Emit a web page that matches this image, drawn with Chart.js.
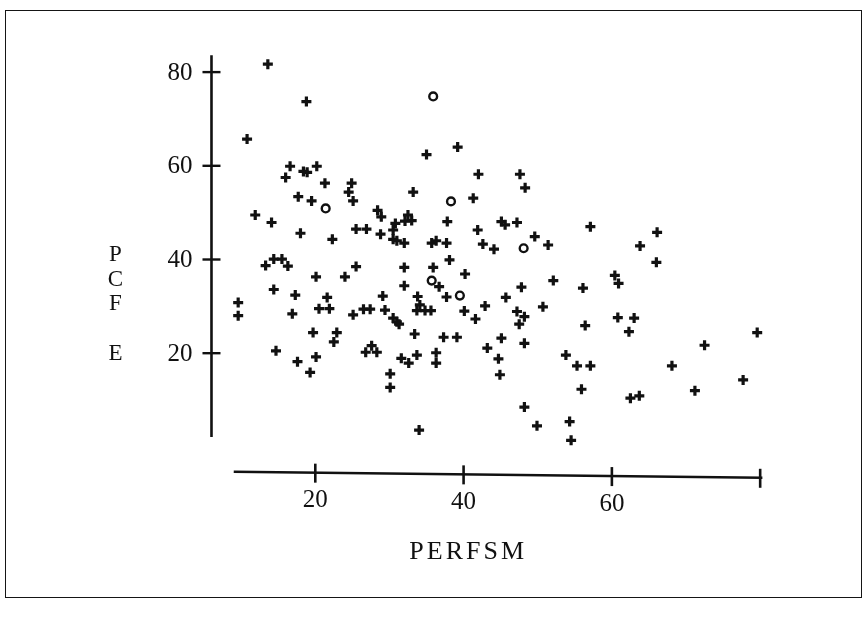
<!DOCTYPE html>
<html>
<head>
<meta charset="utf-8">
<script src="https://cdn.jsdelivr.net/npm/chart.js@4.4.1/dist/chart.umd.min.js"></script>
<style>
  html, body { margin: 0; padding: 0; background: #fff; }
  #wrap { position: relative; width: 865px; height: 620px; }
  #frame { position: absolute; left: 5px; top: 10px; width: 857px; height: 588px; border: 1.5px solid #151515; box-sizing: border-box; }
  canvas { position: absolute; left: 0; top: 0; }
</style>
</head>
<body>
<div id="wrap">
  <div id="frame"></div>
  <canvas id="scatter" width="865" height="620"></canvas>
</div>
<script>
// PERFSM (x) against PCFE (y)
const crossX = [
  13.6, 18.8, 10.8, 16.6, 18.4, 18.9, 20.2, 16.0, 21.3, 24.9, 24.5, 33.2, 17.7, 19.5, 25.1,
  39.2, 35.0, 42.0, 47.6, 48.3, 41.3, 11.9, 14.1, 28.4, 28.9, 32.5, 33.0, 32.1, 30.8, 30.5,
  25.5, 26.9, 18.0, 28.8, 22.3, 30.5, 31.0, 32.0, 37.8, 45.1, 45.6, 47.2, 57.1, 41.9, 49.6,
  35.7, 36.3, 37.7, 42.6, 44.1, 51.4, 38.1, 14.4, 15.5, 13.3, 16.3, 25.5, 32.0, 35.9, 40.2,
  20.1, 24.0, 36.7, 32.0, 52.1, 47.8, 56.1, 14.4, 17.3, 21.6, 29.1, 33.8, 37.7, 45.7, 9.6,
  9.6, 16.9, 20.5, 21.9, 25.1, 26.5, 27.4, 29.4, 30.5, 31.0, 31.3, 34.1, 33.7, 34.8, 35.6,
  40.1, 41.6, 42.9, 50.7, 47.2, 48.2, 47.5, 56.4, 19.7, 22.9, 22.5, 33.4, 37.3, 39.1, 45.1,
  48.2, 43.2, 14.7, 27.6, 26.8, 28.3, 31.6, 32.6, 33.7, 17.6, 20.1, 19.3, 30.1, 30.1, 36.3,
  36.3, 44.7, 44.9, 53.8, 55.3, 57.1, 55.9, 48.2, 49.9, 54.3, 54.5, 34.0, 66.1, 63.8, 66.0,
  60.4, 60.9, 60.8, 63.0, 62.3, 79.6, 72.5, 68.1, 77.7, 71.2, 62.5, 63.7,
];
const crossY = [
  81.7, 73.7, 65.7, 59.9, 58.8, 58.6, 59.9, 57.5, 56.3, 56.3, 54.4, 54.4, 53.4, 52.5, 52.5,
  64.0, 62.4, 58.2, 58.2, 55.3, 53.1, 49.5, 47.9, 50.5, 49.1, 49.5, 48.3, 48.2, 47.7, 46.3,
  46.5, 46.5, 45.6, 45.4, 44.3, 44.3, 44.0, 43.5, 48.1, 48.1, 47.4, 47.9, 47.0, 46.3, 44.9,
  43.5, 44.0, 43.5, 43.3, 42.2, 43.1, 39.9, 40.1, 40.1, 38.7, 38.6, 38.5, 38.3, 38.3, 36.9,
  36.3, 36.3, 34.2, 34.4, 35.5, 34.1, 33.9, 33.6, 32.4, 31.9, 32.2, 32.1, 32.0, 31.9, 30.8,
  28.0, 28.4, 29.5, 29.5, 28.2, 29.4, 29.4, 29.2, 27.5, 26.7, 26.2, 30.3, 29.1, 29.1, 29.1,
  29.0, 27.3, 30.1, 29.9, 28.9, 27.8, 26.2, 25.9, 24.4, 24.4, 22.4, 24.1, 23.4, 23.4, 23.2,
  22.1, 21.1, 20.5, 21.6, 20.2, 20.2, 18.9, 17.9, 19.6, 18.2, 19.2, 15.9, 15.6, 12.7, 20.1,
  17.9, 18.8, 15.4, 19.6, 17.3, 17.3, 12.3, 8.5, 4.5, 5.4, 1.4, 3.6, 45.8, 42.9, 39.4,
  36.6, 34.9, 27.6, 27.5, 24.6, 24.4, 21.7, 17.3, 14.3, 12.0, 10.4, 10.9,
];
const circleX = [35.9, 21.4, 38.3, 48.1, 35.7, 39.5];
const circleY = [74.8, 50.9, 52.4, 42.4, 35.5, 32.3];

const xTicks = [20, 40, 60, 80];
const xTickLabels = ['20', '40', '60', ''];
const yTicks = [20, 40, 60, 80];
const yTickLabels = ['20', '40', '60', '80'];
const yTitleLetters = ['P', 'C', 'F', 'E'];
const yTitleAt = [41, 35.6, 30.5, 19.8];
const xTitle = 'PERFSM';

// where the hand-drawn axes sit, in data units
const yAxisAtX = 6.0;
const yAxisSpan = [2.1, 83.6];
const xAxisSpan = [9.0, 80.3];
const xAxisAtY = [-5.3, -6.6];

const INK = '#111';
const FONT = '"Liberation Serif", "DejaVu Serif", serif';

function toPoints(xs, ys) {
  return xs.map((x, i) => ({ x, y: ys[i] }));
}

function xAxisY(xVal) {
  const t = (xVal - xAxisSpan[0]) / (xAxisSpan[1] - xAxisSpan[0]);
  return xAxisAtY[0] + (xAxisAtY[1] - xAxisAtY[0]) * t;
}

const paperAxes = {
  id: 'paperAxes',
  afterDatasetsDraw(chart) {
    const { ctx } = chart;
    const sx = chart.scales.x;
    const sy = chart.scales.y;
    ctx.save();
    ctx.strokeStyle = INK;
    ctx.fillStyle = INK;
    ctx.lineCap = 'butt';

    // vertical axis
    const ax = sx.getPixelForValue(yAxisAtX);
    ctx.lineWidth = 2.6;
    ctx.beginPath();
    ctx.moveTo(ax, sy.getPixelForValue(yAxisSpan[1]));
    ctx.lineTo(ax, sy.getPixelForValue(yAxisSpan[0]));
    ctx.stroke();

    ctx.font = '25px ' + FONT;
    ctx.textAlign = 'right';
    ctx.textBaseline = 'middle';
    yTicks.forEach((v, i) => {
      const py = sy.getPixelForValue(v);
      ctx.lineWidth = 2.4;
      ctx.beginPath();
      ctx.moveTo(ax - 9, py);
      ctx.lineTo(ax + 9, py);
      ctx.stroke();
      ctx.fillText(yTickLabels[i], ax - 19, py + 1);
    });

    // stacked axis title
    ctx.font = '23px ' + FONT;
    ctx.textAlign = 'center';
    yTitleLetters.forEach((ch, i) => {
      ctx.fillText(ch, ax - 96, sy.getPixelForValue(yTitleAt[i]));
    });

    // horizontal axis, slightly skewed like the scan
    ctx.lineWidth = 2.6;
    ctx.beginPath();
    ctx.moveTo(sx.getPixelForValue(xAxisSpan[0]), sy.getPixelForValue(xAxisAtY[0]));
    ctx.lineTo(sx.getPixelForValue(xAxisSpan[1]), sy.getPixelForValue(xAxisAtY[1]));
    ctx.stroke();

    ctx.font = '25px ' + FONT;
    xTicks.forEach((v, i) => {
      const px = sx.getPixelForValue(v);
      const py = sy.getPixelForValue(xAxisY(v));
      ctx.lineWidth = 2.6;
      ctx.beginPath();
      ctx.moveTo(px, py - 9);
      ctx.lineTo(px, py + 10);
      ctx.stroke();
      if (xTickLabels[i]) ctx.fillText(xTickLabels[i], px, py + 28);
    });

    const midX = (xAxisSpan[0] + xAxisSpan[1]) / 2 - 4.3;
    ctx.font = '26px ' + FONT;
    ctx.letterSpacing = '3px';
    ctx.fillText(xTitle, sx.getPixelForValue(midX) + 2, sy.getPixelForValue(xAxisY(midX)) + 78);
    ctx.restore();
  },
};

new Chart(document.getElementById('scatter'), {
  type: 'scatter',
  data: {
    datasets: [
      {
        label: 'cases',
        data: toPoints(crossX, crossY),
        pointStyle: 'cross',
        pointRadius: 5,
        pointBorderWidth: 3.2,
        borderColor: INK,
        backgroundColor: INK,
      },
      {
        label: 'marked',
        data: toPoints(circleX, circleY),
        pointStyle: 'circle',
        pointRadius: 3.9,
        pointBorderWidth: 2.4,
        borderColor: INK,
        backgroundColor: '#fff',
      },
    ],
  },
  options: {
    responsive: false,
    animation: false,
    layout: { padding: { left: 167, right: 90, top: 44, bottom: 145 } },
    plugins: { legend: { display: false }, tooltip: { enabled: false } },
    scales: {
      x: { type: 'linear', min: 0, max: 82, display: false },
      y: { type: 'linear', min: -6, max: 86, display: false },
    },
  },
  plugins: [paperAxes],
});
</script>
</body>
</html>
